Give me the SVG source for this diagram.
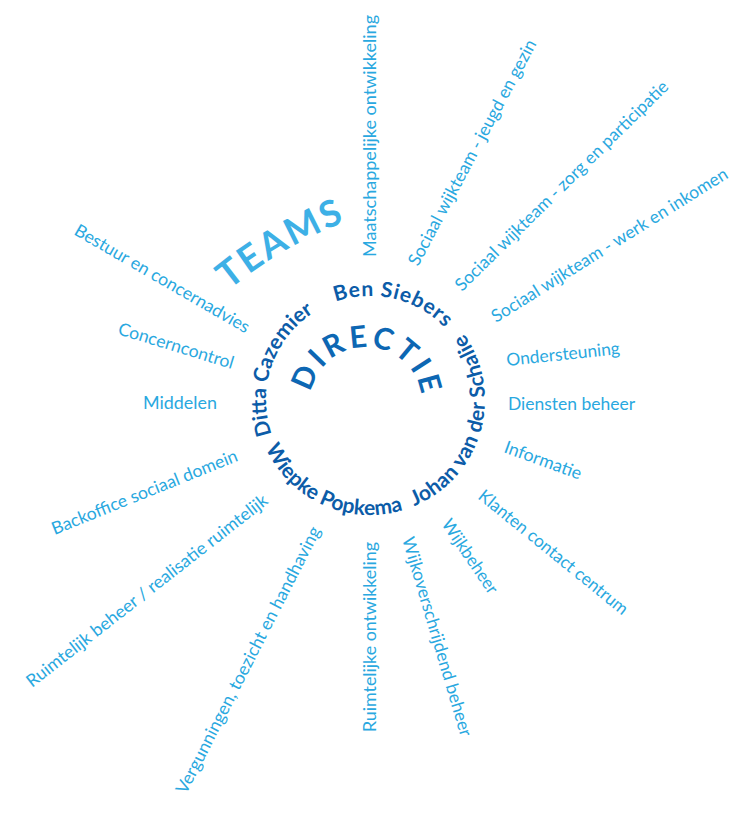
<svg xmlns="http://www.w3.org/2000/svg" xmlns:xlink="http://www.w3.org/1999/xlink" width="750" height="815" viewBox="0 0 750 815">
<style>
.lbl{font-family:Lato,"Liberation Sans",sans-serif;font-size:17.5px;fill:#29a8e0}
.name{font-family:Lato,"Liberation Sans",sans-serif;font-size:21px;font-weight:700;fill:#0c5ca8}
.dir{font-family:Lato,"Liberation Sans",sans-serif;font-size:30px;font-weight:700;fill:#0d67b3;letter-spacing:3.5px}
.teams{font-family:Lato,"Liberation Sans",sans-serif;font-size:37px;font-weight:700;fill:#3db0e6;letter-spacing:2.5px}
</style>
<defs>
<path id="pDitta" d="M 285.86 461.13 A 104 104 0 0 1 341.33 300.03"/>
<path id="pBen" d="M 315.66 311.33 A 104 104 0 0 1 458.67 345.66"/>
<path id="pJohan" d="M 387.99 513.58 A 115 115 0 0 0 445.45 313.21"/>
<path id="pWiepke" d="M 257.02 421.45 A 115 115 0 0 0 428.81 498.83"/>
<path id="pDir" d="M 310.45 410.07 A 56 56 0 1 1 420.62 415.36"/>
<path id="pTeams" d="M 229 290 A 430 430 0 0 1 347 221"/>
</defs>
<rect width="750" height="815" fill="#ffffff"/>
<g id="title-teams"><text class="teams" text-anchor="middle"><textPath xlink:href="#pTeams" href="#pTeams" startOffset="50%">TEAMS</textPath></text></g>
<g id="directie"><text class="dir" text-anchor="middle"><textPath xlink:href="#pDir" href="#pDir" startOffset="50%">DIRECTIE</textPath></text></g>
<g id="ben-siebers"><text class="name" text-anchor="middle" style="letter-spacing:0.8px"><textPath xlink:href="#pBen" href="#pBen" startOffset="50%">Ben Siebers</textPath></text></g>
<g id="ditta-cazemier"><text class="name" text-anchor="middle"><textPath xlink:href="#pDitta" href="#pDitta" startOffset="50%">Ditta Cazemier</textPath></text></g>
<g id="johan-van-der-schalie"><text class="name" text-anchor="middle" style="letter-spacing:0.3px"><textPath xlink:href="#pJohan" href="#pJohan" startOffset="50%">Johan van der Schalie</textPath></text></g>
<g id="wiepke-popkema"><text class="name" text-anchor="middle"><textPath xlink:href="#pWiepke" href="#pWiepke" startOffset="50%">Wiepke Popkema</textPath></text></g>
<g id="connectors"></g>
<g id="t-bestuur"><text class="lbl" transform="translate(73,234) rotate(30)" textLength="199" lengthAdjust="spacingAndGlyphs">Bestuur en concernadvies</text></g>
<g id="t-concerncontrol"><text class="lbl" transform="translate(117,334) rotate(17)" textLength="120" lengthAdjust="spacingAndGlyphs">Concerncontrol</text></g>
<g id="t-middelen"><text class="lbl" transform="translate(143,409)" textLength="74" lengthAdjust="spacingAndGlyphs">Middelen</text></g>
<g id="t-backoffice"><text class="lbl" transform="translate(54.5,535) rotate(-22)" textLength="199" lengthAdjust="spacingAndGlyphs">Backoffice sociaal domein</text></g>
<g id="t-ruimtelijk-beheer"><text class="lbl" transform="translate(32,688) rotate(-38)" textLength="301" lengthAdjust="spacingAndGlyphs">Ruimtelijk beheer / realisatie ruimtelijk</text></g>
<g id="t-vergunningen"><text class="lbl" transform="translate(186,795) rotate(-63)" textLength="297" lengthAdjust="spacingAndGlyphs">Vergunningen, toezicht en handhaving</text></g>
<g id="t-ruimtelijke-ontwikkeling"><text class="lbl" transform="translate(376,732) rotate(-90)" textLength="190" lengthAdjust="spacingAndGlyphs">Ruimtelijke ontwikkeling</text></g>
<g id="t-wijkoverschrijdend"><text class="lbl" transform="translate(402,539) rotate(73.5)" textLength="207" lengthAdjust="spacingAndGlyphs">Wijkoverschrijdend beheer</text></g>
<g id="t-wijkbeheer"><text class="lbl" transform="translate(441,524) rotate(56)" textLength="86" lengthAdjust="spacingAndGlyphs">Wijkbeheer</text></g>
<g id="t-klanten"><text class="lbl" transform="translate(477,498) rotate(39)" textLength="187" lengthAdjust="spacingAndGlyphs">Klanten contact centrum</text></g>
<g id="t-informatie"><text class="lbl" transform="translate(503,452) rotate(20)" textLength="81" lengthAdjust="spacingAndGlyphs">Informatie</text></g>
<g id="t-diensten"><text class="lbl" transform="translate(508,410)" textLength="127" lengthAdjust="spacingAndGlyphs">Diensten beheer</text></g>
<g id="t-ondersteuning"><text class="lbl" transform="translate(507,366) rotate(-6)" textLength="114" lengthAdjust="spacingAndGlyphs">Ondersteuning</text></g>
<g id="t-werk"><text class="lbl" transform="translate(496,323) rotate(-32)" textLength="275" lengthAdjust="spacingAndGlyphs">Sociaal wijkteam - werk en inkomen</text></g>
<g id="t-zorg"><text class="lbl" transform="translate(462,292) rotate(-44.5)" textLength="291" lengthAdjust="spacingAndGlyphs">Sociaal wijkteam - zorg en participatie</text></g>
<g id="t-jeugd"><text class="lbl" transform="translate(418,267) rotate(-62)" textLength="253" lengthAdjust="spacingAndGlyphs">Sociaal wijkteam - jeugd en gezin</text></g>
<g id="t-maatschappelijke"><text class="lbl" transform="translate(376,257) rotate(-90)" textLength="242" lengthAdjust="spacingAndGlyphs">Maatschappelijke ontwikkeling</text></g>
</svg>
